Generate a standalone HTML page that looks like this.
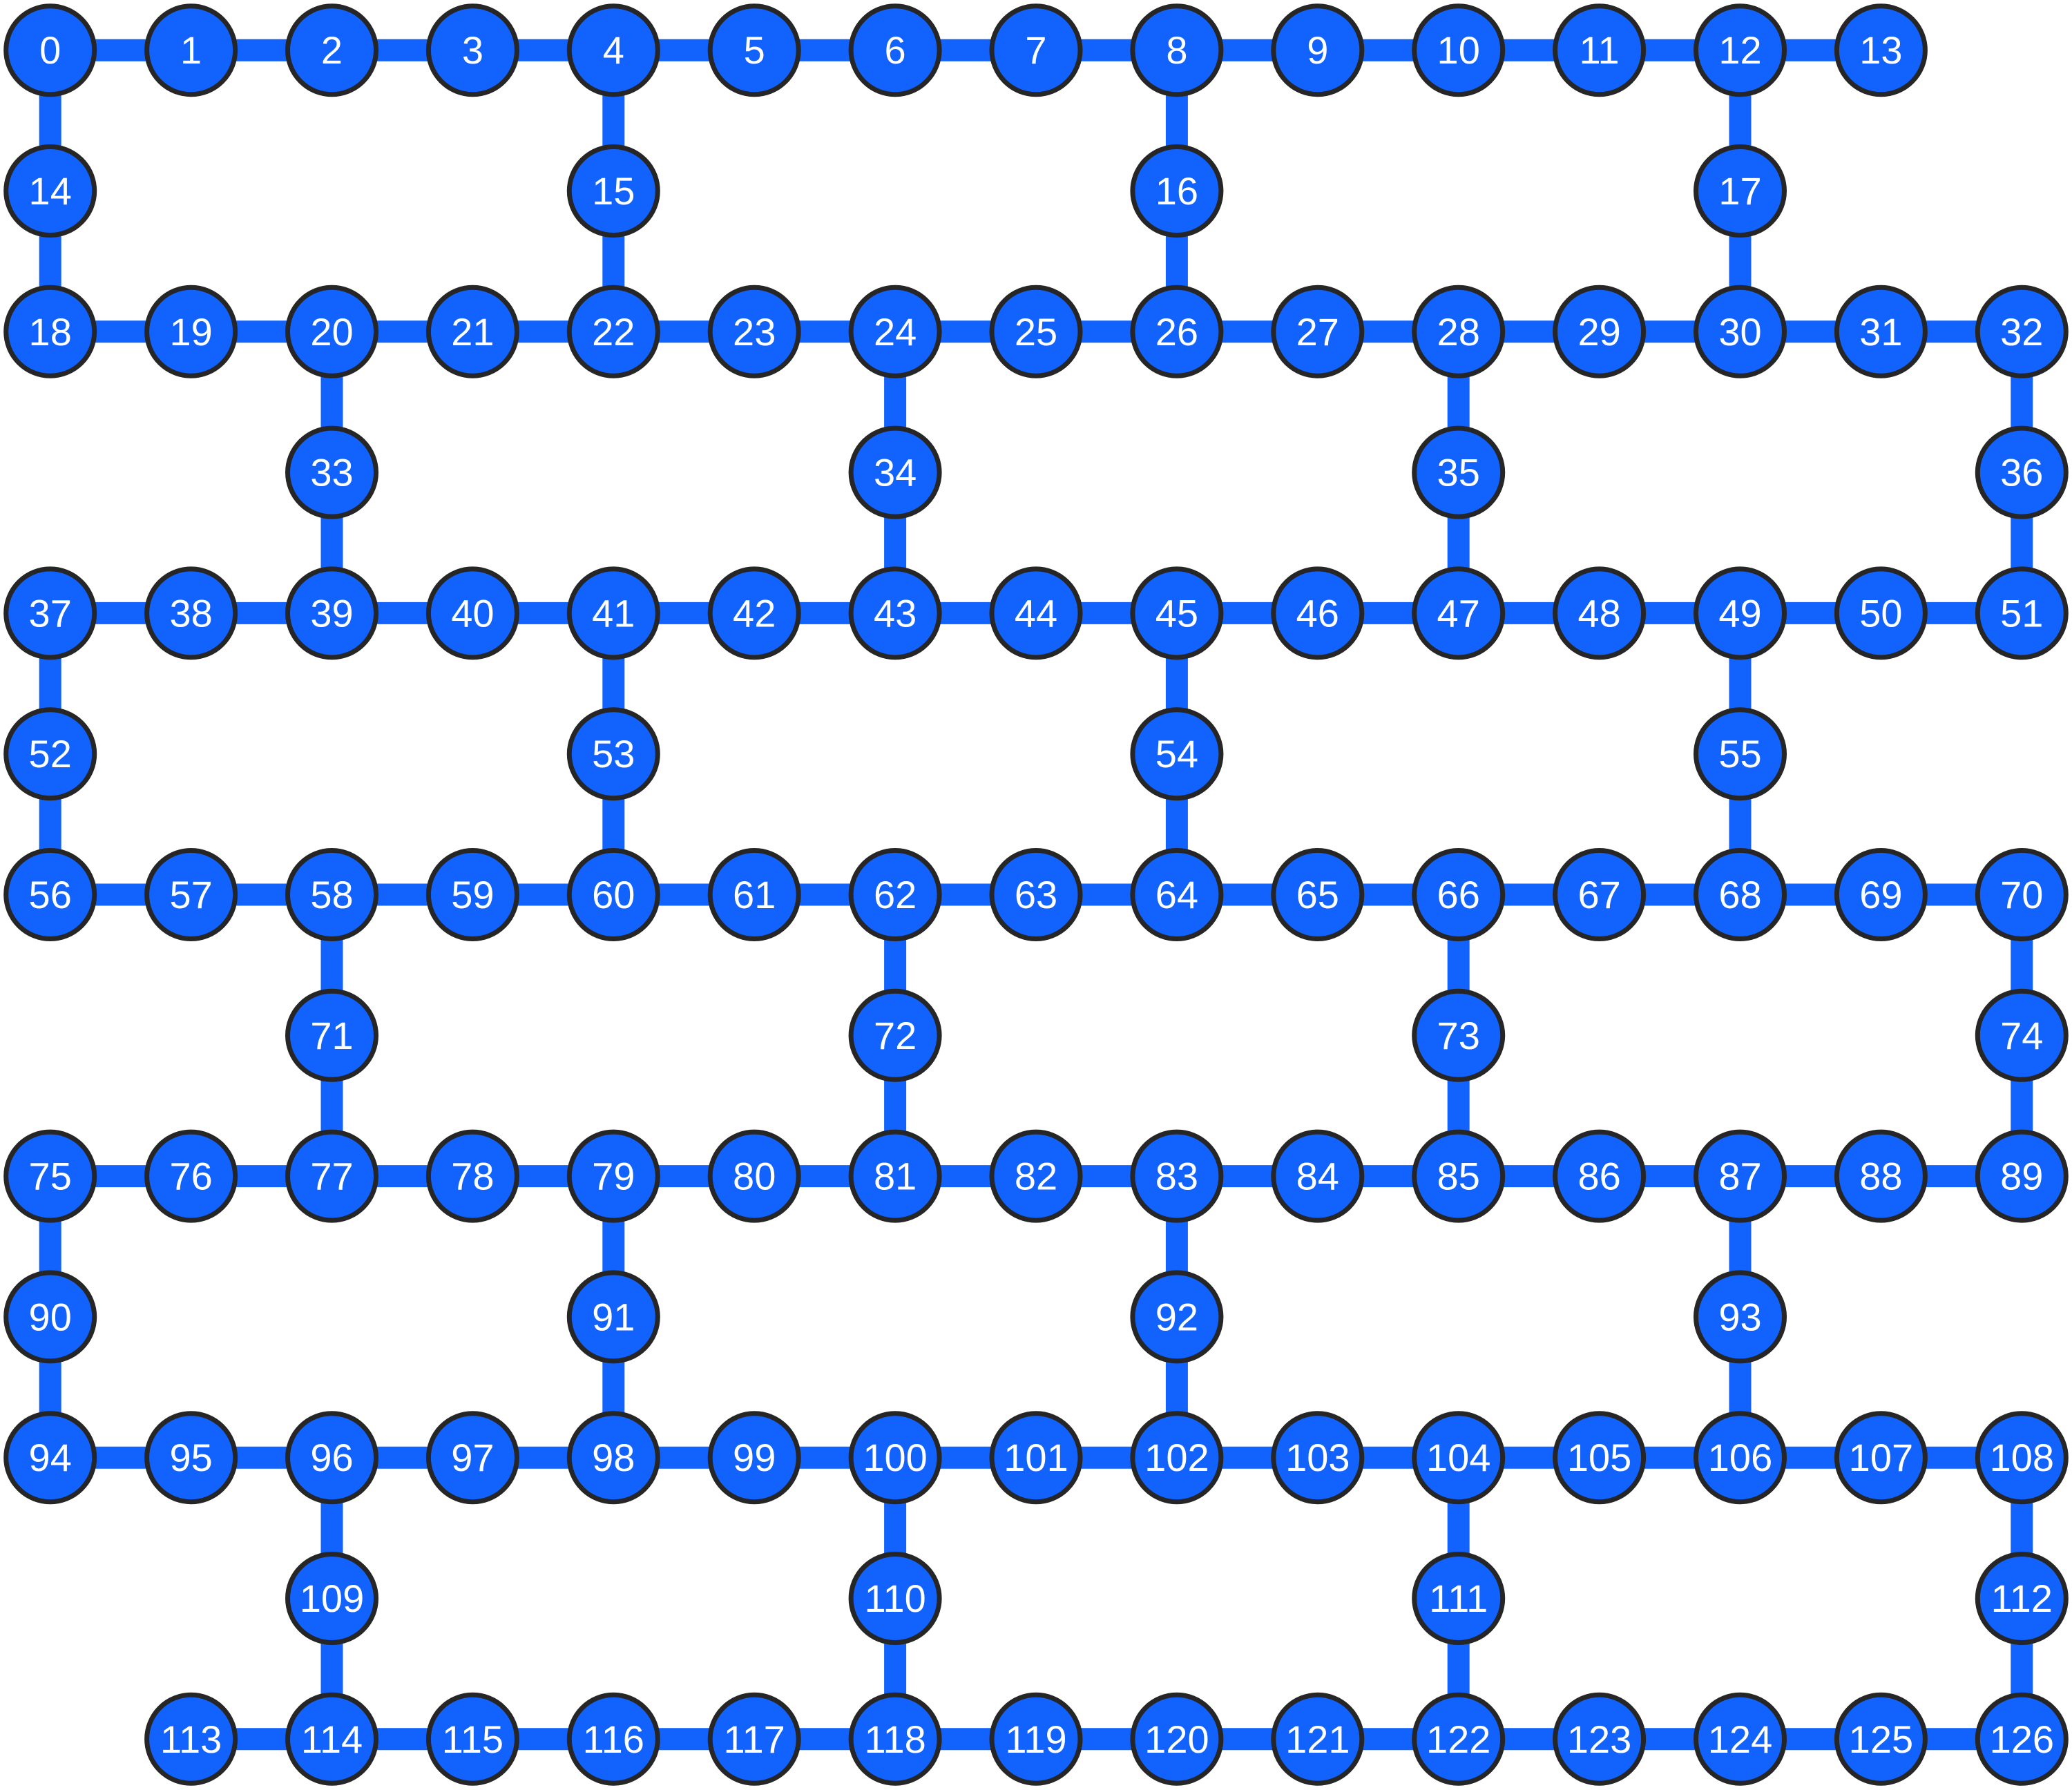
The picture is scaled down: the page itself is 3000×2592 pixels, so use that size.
<!DOCTYPE html>
<html><head><meta charset="utf-8"><style>
html,body{margin:0;padding:0;background:#fff}
svg{display:block}
text{font-family:"Liberation Sans",sans-serif;font-size:56px;fill:#fff;text-anchor:middle;dominant-baseline:central}
</style></head><body>
<svg id="g" width="3000" height="2592" viewBox="0 0 3000 2592" xmlns="http://www.w3.org/2000/svg">
<g id="edges"></g>
<g id="nodes"></g>
</svg>
<script>
// rows of qubits: [startIndex, firstCol, lastCol]
const fullRows = [[0,0,13],[18,0,14],[37,0,14],[56,0,14],[75,0,14],[94,0,14],[113,1,14]];
// bridge rows: [startIndex, columns]
const bridgeRows = [[14,[0,4,8,12]],[33,[2,6,10,14]],[52,[0,4,8,12]],[71,[2,6,10,14]],[90,[0,4,8,12]],[109,[2,6,10,14]]];

const X0=72.7, DX=203.9, Y0=72.7, DY=203.8, R=64;
const px=c=>X0+c*DX, py=r=>Y0+r*DY;
const NS='http://www.w3.org/2000/svg';
const pos={};
fullRows.forEach(([s,a,b],i)=>{for(let c=a;c<=b;c++)pos[s+c-a]=[c,2*i];});
bridgeRows.forEach(([s,cols],i)=>{cols.forEach((c,k)=>pos[s+k]=[c,2*i+1]);});
const edges=[];
fullRows.forEach(([s,a,b])=>{for(let c=a;c<b;c++)edges.push([s+c-a,s+c-a+1]);});
const find=(c,r)=>{for(const q in pos){if(pos[q][0]===c&&pos[q][1]===r)return +q;}return null;};
bridgeRows.forEach(([s,cols],i)=>{cols.forEach((c,k)=>{const q=s+k;const r=2*i+1;
 const u=find(c,r-1),d=find(c,r+1); if(u!==null)edges.push([u,q]); if(d!==null)edges.push([q,d]);});});
const eg=document.getElementById('edges'), ng=document.getElementById('nodes');
edges.forEach(([a,b])=>{const l=document.createElementNS(NS,'line');
 
 
 l.setAttribute('x1',px(pos[a][0]));l.setAttribute('y1',py(pos[a][1]));
 l.setAttribute('x2',px(pos[b][0]));l.setAttribute('y2',py(pos[b][1]));
 l.setAttribute('stroke','#1262FE');l.setAttribute('stroke-width','32');eg.appendChild(l);});
Object.keys(pos).forEach(q=>{const [c,r]=pos[q];
 const g=document.createElementNS(NS,'g');
 
 
 const ci=document.createElementNS(NS,'circle');
 
 
 ci.setAttribute('cx',px(c));ci.setAttribute('cy',py(r));ci.setAttribute('r',R);
 ci.setAttribute('fill','#1262FE');ci.setAttribute('stroke','#262626');ci.setAttribute('stroke-width','7');
 const t=document.createElementNS(NS,'text');
 
 
 t.setAttribute('x',px(c));t.setAttribute('y',py(r));t.textContent=q;
 g.appendChild(ci);g.appendChild(t);ng.appendChild(g);});
</script>
</body></html>
